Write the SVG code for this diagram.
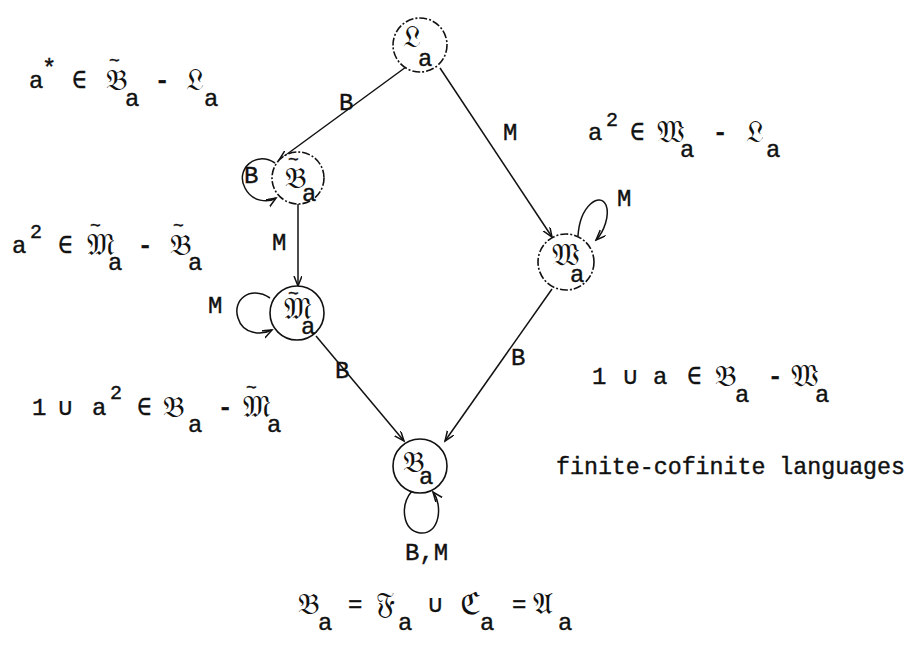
<svg xmlns="http://www.w3.org/2000/svg" width="915" height="645" viewBox="0 0 915 645">
<style>
.t{font-family:"Liberation Mono","DejaVu Sans Mono",monospace;font-size:24px;fill:#111;stroke:#111;stroke-width:0.4}
.sm{font-size:20px}
.tl{font-size:18px}
.d{font-weight:bold}
.fr{font-family:"DejaVu Serif","DejaVu Sans","Noto Sans",serif;font-size:30px;stroke:none}
.node{fill:#fff;stroke:#111;stroke-width:1.6;stroke-dasharray:8 2 2 2}
.solid{stroke-dasharray:none}
.edge{fill:none;stroke:#111;stroke-width:1.5;marker-end:url(#arr)}
</style>
<defs>
<marker id="arr" markerWidth="12" markerHeight="10" refX="10" refY="4" orient="auto" markerUnits="userSpaceOnUse">
<path d="M0,0 L10,4 L0,8" fill="none" stroke="#111" stroke-width="1.5"/>
</marker>
</defs>
<rect width="915" height="645" fill="#fff"/>
<g id="connectors">
<line class="edge" x1="406" y1="67" x2="279" y2="160"/>
<line class="edge" x1="440" y1="68" x2="552" y2="237"/>
<line class="edge" x1="298" y1="204" x2="298" y2="286"/>
<line class="edge" x1="316" y1="336" x2="404" y2="441"/>
<line class="edge" x1="552" y1="289" x2="445" y2="441"/>
<path class="edge" d="M 275 163 C 255 150, 235 170, 245 188 C 252 202, 268 203, 276 198"/>
<path class="edge" d="M 270 298 C 250 285, 232 300, 238 318 C 243 335, 262 335, 272 330"/>
<path class="edge" d="M 578 236 C 580 205, 600 192, 606 205 C 610 215, 604 232, 596 240"/>
<path class="edge" d="M 412 491 C 400 505, 402 530, 420 533 C 440 535, 443 505, 433 492"/>
<text class="t" x="339" y="110">B</text>
<text class="t" x="503" y="140">M</text>
<text class="t" x="272" y="250">M</text>
<text class="t" x="335" y="378">B</text>
<text class="t" x="511" y="365">B</text>
<text class="t" x="244" y="183">B</text>
<text class="t" x="208" y="313">M</text>
<text class="t" x="617" y="206">M</text>
<text class="t" x="405" y="560">B,M</text>
</g>
<g id="node-L">
<circle class="node" cx="420" cy="45" r="27"/>
<text class="t"><tspan class="fr" x="403" y="47">𝔏</tspan><tspan x="418" y="66">a</tspan></text>
</g>
<g id="node-Btilde">
<circle class="node" cx="298" cy="178" r="26"/>
<text class="t"><tspan class="tl" x="288" y="165">~</tspan><tspan class="fr" x="285" y="188">𝔅</tspan><tspan x="302" y="201">a</tspan></text>
</g>
<g id="node-W">
<circle class="node" cx="566" cy="262" r="28"/>
<text class="t"><tspan class="fr" x="552" y="265">𝔚</tspan><tspan x="570" y="282">a</tspan></text>
</g>
<g id="node-Mtilde">
<circle class="node solid" cx="297" cy="313" r="27"/>
<text class="t"><tspan class="tl" x="288" y="299">~</tspan><tspan class="fr" x="284" y="319">𝔐</tspan><tspan x="301" y="334">a</tspan></text>
</g>
<g id="node-B">
<circle class="node solid" cx="420" cy="466" r="27"/>
<text class="t"><tspan class="fr" x="403" y="472">𝔅</tspan><tspan x="419" y="484">a</tspan></text>
</g>
<g id="label-1">
<text class="t"><tspan x="29" y="88">a</tspan><tspan x="42" y="76">*</tspan><tspan x="72" y="88">∈</tspan><tspan class="tl" x="109" y="66">~</tspan><tspan class="fr" x="106" y="90">𝔅</tspan><tspan x="125" y="106">a</tspan><tspan class="d" x="155" y="88">-</tspan><tspan class="fr" x="186" y="90">𝔏</tspan><tspan x="204" y="106">a</tspan></text>
</g>
<g id="label-2">
<text class="t"><tspan x="588" y="140">a</tspan><tspan class="sm" x="606" y="126">2</tspan><tspan x="630" y="140">∈</tspan><tspan class="fr" x="657" y="142">𝔚</tspan><tspan x="680" y="157">a</tspan><tspan class="d" x="713" y="140">-</tspan><tspan class="fr" x="746" y="142">𝔏</tspan><tspan x="766" y="157">a</tspan></text>
</g>
<g id="label-3">
<text class="t"><tspan x="12" y="253">a</tspan><tspan class="sm" x="30" y="238">2</tspan><tspan x="58" y="253">∈</tspan><tspan class="tl" x="90" y="231">~</tspan><tspan class="fr" x="87" y="255">𝔐</tspan><tspan x="108" y="270">a</tspan><tspan class="d" x="138" y="253">-</tspan><tspan class="tl" x="173" y="231">~</tspan><tspan class="fr" x="170" y="255">𝔅</tspan><tspan x="188" y="270">a</tspan></text>
</g>
<g id="label-4">
<text class="t"><tspan x="32" y="415">1</tspan><tspan x="58" y="415">∪</tspan><tspan x="92" y="415">a</tspan><tspan class="sm" x="110" y="399">2</tspan><tspan x="137" y="415">∈</tspan><tspan class="fr" x="163" y="417">𝔅</tspan><tspan x="188" y="432">a</tspan><tspan class="d" x="218" y="415">-</tspan><tspan class="tl" x="246" y="393">~</tspan><tspan class="fr" x="243" y="417">𝔐</tspan><tspan x="267" y="432">a</tspan></text>
</g>
<g id="label-5">
<text class="t"><tspan x="592" y="384">1</tspan><tspan x="623" y="384">∪</tspan><tspan x="653" y="384">a</tspan><tspan x="687" y="384">∈</tspan><tspan class="fr" x="715" y="386">𝔅</tspan><tspan x="735" y="402">a</tspan><tspan class="d" x="768" y="384">-</tspan><tspan class="fr" x="791" y="386">𝔚</tspan><tspan x="815" y="402">a</tspan></text>
</g>
<g id="label-6">
<text class="t" x="556" y="474" textLength="349" lengthAdjust="spacingAndGlyphs">finite-cofinite languages</text>
</g>
<g id="label-7">
<text class="t"><tspan class="fr" x="298" y="614">𝔅</tspan><tspan x="318" y="630">a</tspan><tspan x="348" y="612">=</tspan><tspan class="fr" x="376" y="614">𝔉</tspan><tspan x="398" y="630">a</tspan><tspan x="428" y="612">∪</tspan><tspan class="fr" x="460" y="614">ℭ</tspan><tspan x="480" y="630">a</tspan><tspan x="512" y="612">=</tspan><tspan class="fr" x="533" y="614">𝔄</tspan><tspan x="558" y="630">a</tspan></text>
</g>
</svg>
